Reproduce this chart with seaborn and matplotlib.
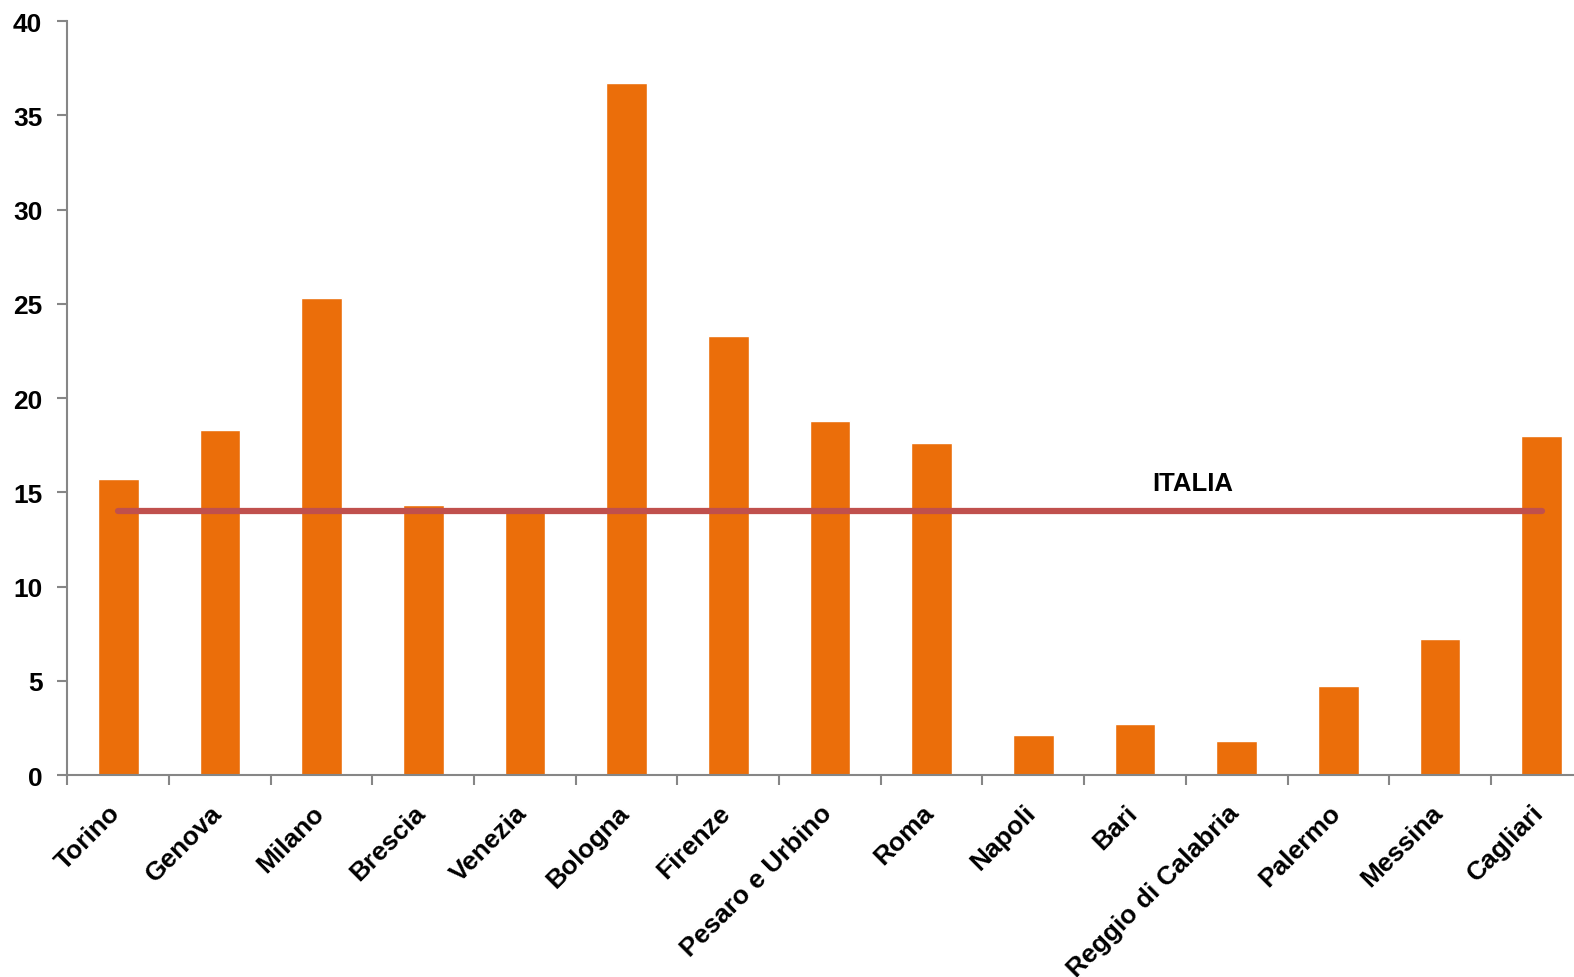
import matplotlib
matplotlib.use("Agg")
import matplotlib.pyplot as plt
from matplotlib.ticker import FixedLocator
from matplotlib.transforms import ScaledTranslation
import seaborn as sns
import numpy as np
import pandas as pd

# data
cities = ["Torino", "Genova", "Milano", "Brescia", "Venezia", "Bologna", "Firenze",
          "Pesaro e Urbino", "Roma", "Napoli", "Bari", "Reggio di Calabria",
          "Palermo", "Messina", "Cagliari"]
values = [15.7, 18.3, 25.3, 14.3, 14.0, 36.7, 23.3, 18.8, 17.6, 2.1, 2.7, 1.8, 4.7, 7.2, 18.0]
italia = [14.0] * len(cities)
y_ticks = [0, 5, 10, 15, 20, 25, 30, 35, 40]

sns.set_theme(style="white")
plt.rcParams['font.family'] = ['Liberation Sans', 'DejaVu Sans']
plt.rcParams['text.color'] = 'black'
plt.rcParams['xtick.labelcolor'] = 'black'
plt.rcParams['ytick.labelcolor'] = 'black'

df = pd.DataFrame({"city": cities, "value": values, "italia": italia})

fig = plt.figure(figsize=(15.74, 9.78), dpi=100)
ax = fig.add_axes([0.0428, 0.2065, 0.969, 0.771])

sns.barplot(data=df, x="city", y="value", color="#EB6E0A", width=0.4,
            saturation=1, ax=ax)
ax.plot(np.arange(len(cities)), df["italia"], color="#C0504D", lw=4.5,
        solid_capstyle="round", zorder=5)
ax.text(10.57, 15.5, "ITALIA", fontsize=18.5, fontweight="bold", ha="center",
        va="center", color="black")

ax.set_xlim(-0.5, len(cities) - 0.5)
ax.set_ylim(0, 40)
ax.set_yticks(y_ticks)
ax.set_yticklabels([str(t) for t in y_ticks], fontsize=19, fontweight="bold")
ax.set_xlabel("")
ax.set_ylabel("")

ax.xaxis.set_minor_locator(FixedLocator(np.arange(len(cities) + 1) - 0.5))
ax.tick_params(axis="x", which="major", length=0, pad=18)
ax.tick_params(axis="x", which="minor", length=7, width=1.5, color="#868686", bottom=True)
ax.tick_params(axis="y", length=7, width=1.5, color="#868686", left=True, pad=11)

ax.set_xticks(np.arange(len(cities)))
ax.set_xticklabels(cities, rotation=45, ha="right", rotation_mode="anchor",
                   fontsize=19, fontweight="bold")
# nudge the rotated labels left so they end just under the bar
shift = ScaledTranslation(-10 / 100, 0, fig.dpi_scale_trans)
for lab in ax.get_xticklabels():
    lab.set_transform(lab.get_transform() + shift)

for s in ["top", "right"]:
    ax.spines[s].set_visible(False)
for s in ["left", "bottom"]:
    ax.spines[s].set_color("#868686")
    ax.spines[s].set_linewidth(1.5)

fig.savefig("out.png", dpi=100)
